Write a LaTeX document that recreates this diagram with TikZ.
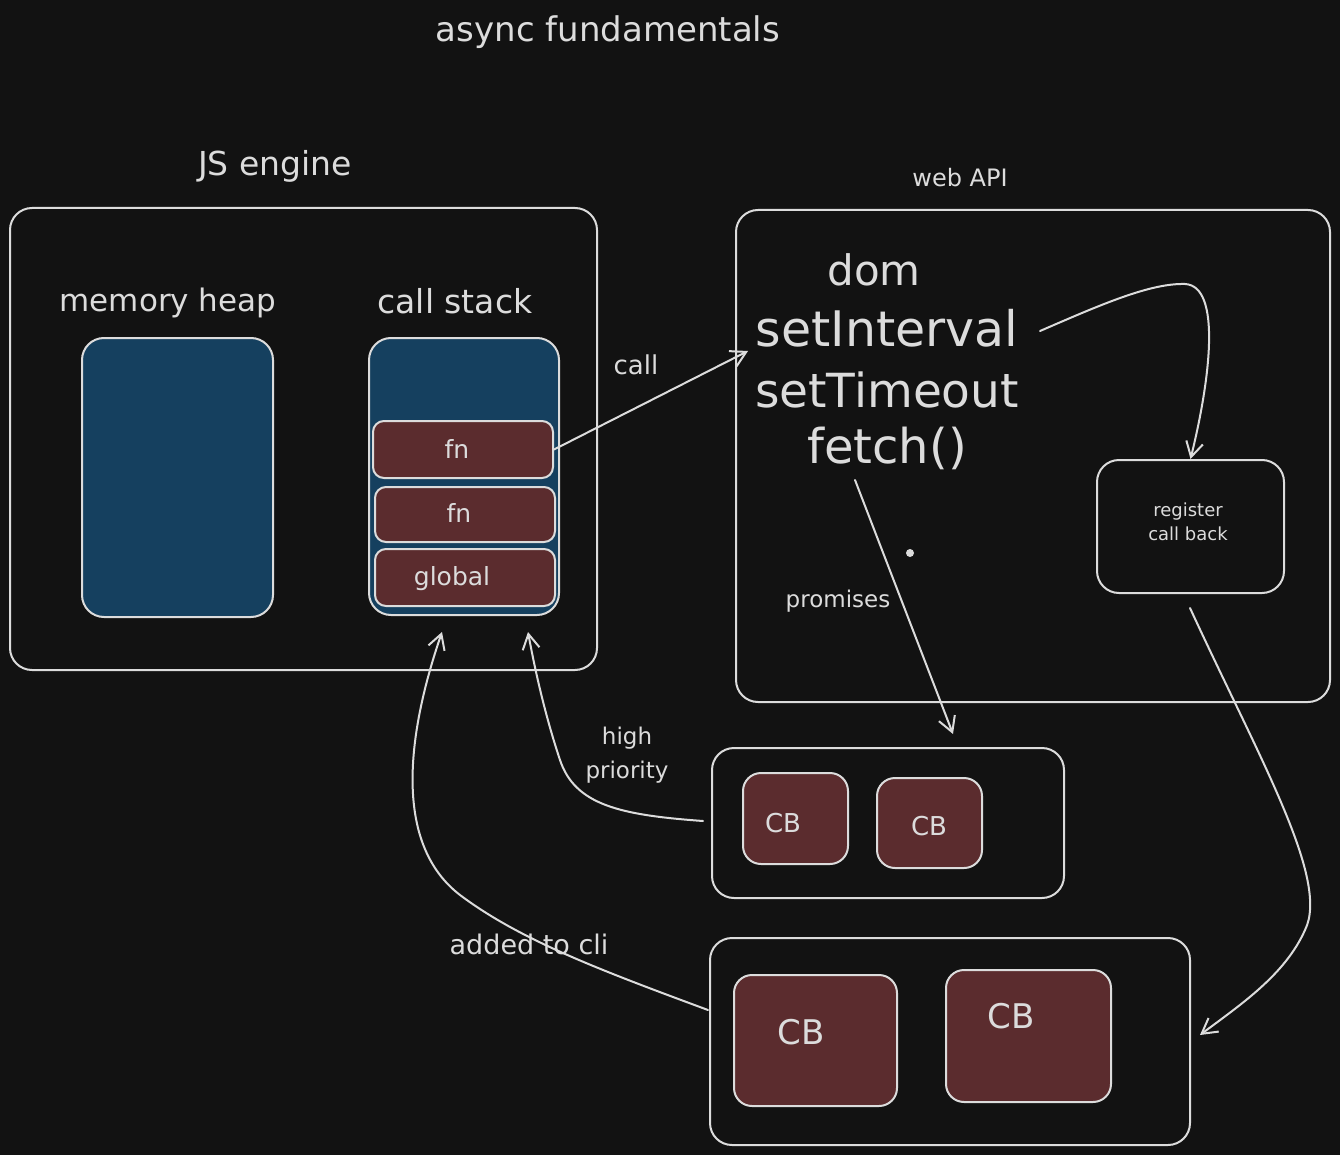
\documentclass[tikz,border=0pt]{standalone}
\usepackage{fontspec}
\setmainfont{DejaVu Sans}
\usetikzlibrary{arrows.meta,calc}
\definecolor{bg}{HTML}{121212}
\definecolor{ink}{HTML}{DCDCDC}
\definecolor{bluef}{HTML}{15405F}
\definecolor{redf}{HTML}{5B2C2E}
\tikzset{
  box/.style={draw=ink, line width=2pt, rounded corners=22pt, inner sep=0pt, minimum width=#1},
  bluebox/.style={box=#1, fill=bluef},
  redbox/.style={box=#1, fill=redf, rounded corners=11pt},
  cbbox/.style={box=#1, fill=redf, rounded corners=18pt},
  txt/.style={text=ink, inner sep=0pt, font=\fontsize{#1}{#1}\selectfont},
  conn/.style={draw=ink, line width=2pt, line cap=round},
  arr/.style={conn, -{Straight Barb[length=15pt,width=17pt]}}
}
\begin{document}
\begin{tikzpicture}[x=1pt,y=-1pt]
\useasboundingbox (0,0) rectangle (1340,1155);
\fill[bg] (0,0) rectangle (1340,1155);

% titles
\node[txt=34] (title) at (608,32) {async fundamentals};
\node[txt=33] (jslbl) at (275,166) {JS engine};
\node[txt=24] (weblbl) at (960,178) {web API};

% JS engine
\node[box=587pt, minimum height=462pt] (js) at (303.5,439) {};
\node[txt=31] (mhlbl) at (168,303) {memory heap};
\node[txt=33] (cslbl) at (455,301) {call stack};
\node[bluebox=191pt, minimum height=279pt] (mh) at (177.5,477.5) {};
\node[bluebox=190pt, minimum height=277pt] (cs) at (464,476.5) {};
\node[redbox=180pt, minimum height=57pt] (fn1) at (463,449.5) {};
\node[redbox=180pt, minimum height=55pt] (fn2) at (465,514.5) {};
\node[redbox=180pt, minimum height=57pt] (glob) at (465,577.5) {};
\node[txt=25] (fn1t) at (457,449) {fn};
\node[txt=25] (fn2t) at (459,513) {fn};
\node[txt=25] (globt) at (452,579) {global};

% web API
\node[box=594pt, minimum height=492pt] (web) at (1033,456) {};
\node[txt=42] (dom) at (874,270) {dom};
\node[txt=49] (setint) at (887,328) {setInterval};
\node[txt=47] (settim) at (887,390) {setTimeout};
\node[txt=48] (fetch) at (887,448) {fetch()};
\node[box=187pt, minimum height=133pt] (reg) at (1190.5,526.5) {};
\node[text=ink, inner sep=0pt, font=\fontsize{18}{24}\selectfont, align=center] (regt) at (1188,522) {register\\call back};
\node[circle, fill=ink, inner sep=0pt, minimum size=8pt] (dot) at (910,553) {};

% high priority queue
\node[box=352pt, minimum height=150pt] (hp) at (888,823) {};
\node[cbbox=105pt, minimum height=91pt] (cb1) at (795.5,818.5) {};
\node[cbbox=105pt, minimum height=90pt] (cb2) at (929.5,823) {};
\node[txt=26] (cb1t) at (783,823) {CB};
\node[txt=26] (cb2t) at (929,826) {CB};

% callback queue
\node[box=480pt, minimum height=207pt] (cq) at (950,1041.5) {};
\node[cbbox=163pt, minimum height=131pt] (cb3) at (815.5,1040.5) {};
\node[cbbox=165pt, minimum height=132pt] (cb4) at (1028.5,1036) {};
\node[txt=34] (cb3t) at (801,1032) {CB};
\node[txt=34] (cb4t) at (1011,1016) {CB};

% connector labels
\node[txt=26] (calllbl) at (636,365) {call};
\node[txt=23] (promlbl) at (838,601) {promises};
\node[text=ink, inner sep=0pt, font=\fontsize{23}{34}\selectfont, align=center] (hplbl) at (627,755) {high\\priority};
\node[txt=27] (addlbl) at (529,944) {added to cli};

% free ends
\coordinate (callend) at (748,351);
\coordinate (sistart) at (1040,331);
\coordinate (pstart) at (855,480);
\coordinate (pend) at (953,734);
\coordinate (hpend) at (528,632);
\coordinate (addend) at (442,632);
\coordinate (regstart) at (1190,608);
\coordinate (cqend) at (1200,1035);
\coordinate (hpstart) at (703,821);
\coordinate (cqstart) at (708,1010);

% connectors
\draw[arr] (fn1.east) -- (callend);
\draw[arr] (sistart) .. controls (1100,305) and (1150,283) .. (1185,284)
  .. controls (1222,286) and (1210,380) .. (reg.north);
\draw[arr] (pstart) -- (pend);
\draw[arr] (hpstart) .. controls (620,815) and (575,805) .. (560,760)
  .. controls (545,715) and (535,670) .. (hpend);
\draw[arr] (cqstart) .. controls (600,970) and (520,940) .. (460,895)
  .. controls (395,845) and (405,740) .. (addend);
\draw[arr] (regstart) .. controls (1260,760) and (1330,880) .. (1305,930)
  .. controls (1285,975) and (1240,1005) .. (cqend);
\end{tikzpicture}
\end{document}
